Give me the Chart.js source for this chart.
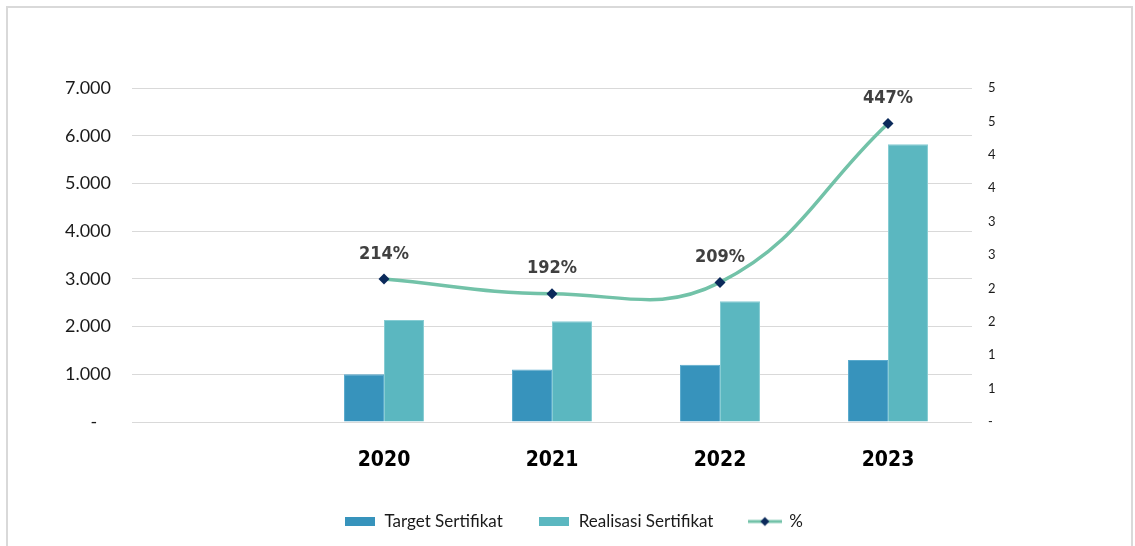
<!DOCTYPE html>
<html>
<head>
<meta charset="utf-8">
<script src="https://cdn.jsdelivr.net/npm/chart.js@4.4.0/dist/chart.umd.min.js"></script>
<style>
  html, body { margin: 0; padding: 0; background: #fff; overflow: hidden; }
  #frame { position: absolute; left: 6px; top: 6px; width: 1127px; height: 600px;
           border-left: 2px solid #d9d9d9; border-top: 2px solid #d9d9d9; border-right: 2px solid #d9d9d9; box-sizing: border-box; }
  #wrap { position: absolute; left: 0; top: 0; width: 1135px; height: 546px; }
</style>
</head>
<body>
<div id="frame"></div>
<div id="wrap"><canvas id="c" width="1135" height="546"></canvas></div>
<script>
const categories = ['', '2020', '2021', '2022', '2023'];
const targetSertifikat = [null, 1000, 1100, 1200, 1300];
const realisasiSertifikat = [null, 2140, 2110, 2530, 5820];
const persen = [null, 2.14, 1.92, 2.09, 4.47];
const leftTicks = [0, 1000, 2000, 3000, 4000, 5000, 6000, 7000];

const C_TARGET = '#3793bc';
const C_REAL = '#5bb7c0';
const C_LINE = '#72c2a8';
const C_DIAMOND = '#0b2a5b';
const NARROW = '"Liberation Sans Narrow", "DejaVu Sans Condensed", "Open Sans", sans-serif';

function makeBox(color) {
  const cv = document.createElement('canvas');
  cv.width = 30; cv.height = 9;
  const x = cv.getContext('2d');
  x.fillStyle = color; x.fillRect(0, 0, 30, 9);
  return cv;
}
function makeLineIcon() {
  const cv = document.createElement('canvas');
  cv.width = 34; cv.height = 12;
  const x = cv.getContext('2d');
  x.strokeStyle = C_LINE; x.lineWidth = 3;
  x.beginPath(); x.moveTo(0, 6); x.lineTo(34, 6); x.stroke();
  x.fillStyle = C_DIAMOND;
  x.beginPath(); x.moveTo(17, 1.5); x.lineTo(21.5, 6); x.lineTo(17, 10.5); x.lineTo(12.5, 6); x.closePath(); x.fill();
  return cv;
}

const pctLabels = {
  id: 'pctLabels',
  afterDatasetsDraw(chart) {
    const ctx = chart.ctx;
    const meta = chart.getDatasetMeta(2);
    ctx.save();
    ctx.font = 'bold 18px ' + NARROW;
    ctx.fillStyle = '#404040';
    ctx.textAlign = 'center';
    ctx.textBaseline = 'middle';
    meta.data.forEach((pt, i) => {
      const v = persen[i];
      if (v === null || v === undefined) return;
      ctx.fillText(Math.round(v * 100) + '%', pt.x, pt.y - 25);
    });
    ctx.restore();
  }
};

new Chart(document.getElementById('c'), {
  type: 'bar',
  data: {
    labels: categories,
    datasets: [
      { label: 'Target Sertifikat', data: targetSertifikat, backgroundColor: C_TARGET,
        borderColor: '#5aaacd', borderWidth: 1, yAxisID: 'y', order: 2,
        categoryPercentage: 0.476, barPercentage: 1.0 },
      { label: 'Realisasi Sertifikat', data: realisasiSertifikat, backgroundColor: C_REAL,
        borderColor: '#86ccd3', borderWidth: 1, yAxisID: 'y', order: 2,
        categoryPercentage: 0.476, barPercentage: 1.0 },
      { type: 'line', label: '%', data: persen, yAxisID: 'y1', order: 0,
        borderColor: C_LINE, borderWidth: 3.5, tension: 0.42, spanGaps: true,
        pointStyle: 'rectRot', pointRadius: 5.5, pointBackgroundColor: C_DIAMOND,
        pointBorderColor: C_DIAMOND, pointBorderWidth: 0, fill: false }
    ]
  },
  options: {
    responsive: false,
    animation: false,
    events: [],
    layout: { padding: { top: 88, left: 12, right: 0, bottom: 6 } },
    plugins: {
      tooltip: { enabled: false },
      legend: {
        position: 'bottom',
        labels: {
          usePointStyle: true,
          pointStyleWidth: 32,
          boxHeight: 12,
          padding: 18,
          color: '#1a1a1a',
          font: { family: 'Lato, sans-serif', size: 17 },
          generateLabels(chart) {
            const icons = [makeBox(C_TARGET), makeBox(C_REAL), makeLineIcon()];
            return chart.data.datasets.map((ds, i) => ({
              text: ds.label + (i < 2 ? '    ' : ''),
              pointStyle: icons[i],
              fillStyle: 'transparent', strokeStyle: 'transparent', lineWidth: 0,
              hidden: false, datasetIndex: i, fontColor: '#1a1a1a'
            }));
          }
        }
      }
    },
    scales: {
      x: {
        grid: { display: false, drawTicks: false },
        border: { display: false },
        ticks: { color: '#000', padding: 26, font: { family: NARROW, size: 21, weight: 'bold' } },
        afterFit(s) { s.height = 73; }
      },
      y: {
        position: 'left',
        min: 0, max: 7000,
        afterBuildTicks(s) { s.ticks = leftTicks.map(v => ({ value: v })); },
        grid: { color: '#d9d9d9', lineWidth: 1, drawTicks: false },
        border: { display: false },
        ticks: {
          padding: 21, color: '#1a1a1a',
          font: { family: 'Lato, sans-serif', size: 18 },
          callback(v) { return v === 0 ? '-   ' : v.toLocaleString('de-DE'); }
        },
        afterFit(s) { s.width = 120; }
      },
      y1: {
        position: 'right',
        min: 0, max: 5,
        ticks: {
          stepSize: 0.5, padding: 16, color: '#1a1a1a',
          font: { family: 'Lato, sans-serif', size: 13 },
          callback(v) { return v === 0 ? '-' : String(Math.round(v + 1e-9)); }
        },
        grid: { display: false, drawTicks: false },
        border: { display: false },
        afterFit(s) { s.width = 163; }
      }
    }
  },
  plugins: [pctLabels]
});
</script>
</body>
</html>
